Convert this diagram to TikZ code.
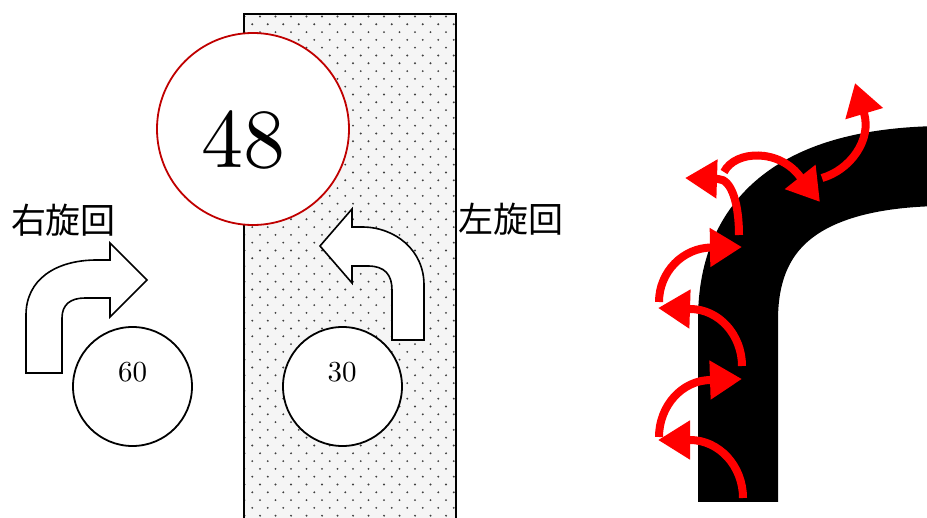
\documentclass[tikz,border=0pt]{standalone}
\usepackage{fontspec}
\newfontfamily\jpfont{Noto Sans CJK JP}
\newfontfamily\numfont{lmroman10-regular.otf}
\usetikzlibrary{arrows.meta}
\definecolor{circred}{RGB}{192,0,0}
\begin{document}
\begin{tikzpicture}[x=1pt,y=-1pt,
  turnarrow/.style={draw=black, line width=1.6pt, fill=white, line join=miter},
  ringnode/.style={circle, draw=black, line width=1.8pt, fill=white, minimum size=119pt, inner sep=0pt},
  bigring/.style={circle, draw=circred, line width=1.8pt, fill=white, minimum size=192pt, inner sep=0pt},
  redarrow/.style={draw=red, line width=8pt, -{Triangle[length=32pt,width=37pt]}},
  dotmark/.style={fill=black!75},
  numtext/.style={inner sep=0pt, font=\numfont\fontsize{29}{32}\selectfont},
  jplabel/.style={inner sep=0pt, font=\jpfont\fontsize{35}{40}\selectfont},
]
\useasboundingbox (0,0) rectangle (927,518);
\clip (0,0) rectangle (927,518);

% dotted band
\fill[black!4] (244,14) rectangle (456,530);
\begin{scope}
\clip (244,14) rectangle (456,530);
\foreach \j in {0,...,66}{
  \pgfmathsetmacro\yy{16.5+7.8*\j}
  \pgfmathsetmacro\xo{mod(\j,2)*7.75}
  \foreach \i in {-1,...,14}{
    \fill[dotmark] ({260-\xo+15.5*\i},\yy) circle[radius=1.05];
  }
}
\end{scope}
\draw[line width=1.6pt] (244,530) -- (244,14) -- (456,14) -- (456,530);

% big red circle
\node[bigring] (big) at (253,129) {};
\node[inner sep=0pt, font=\numfont\fontsize{84}{90}\selectfont] (t48) at (243.5,140) {48};

% labels
\node[jplabel] (rlabel) at (63.5,220) {右旋回};
\node[jplabel] (llabel) at (511,219) {左旋回};

% right-turn arrow
\draw[turnarrow] (26,373) -- (26,315) .. controls (26,280) and (55,260) .. (97,260)
  -- (110,260) -- (110,243) -- (147,280) -- (110,317) -- (110,298) -- (85,298)
  .. controls (70,298) and (62,305) .. (62,318) -- (62,373) -- cycle;

% left-turn arrow
\draw[turnarrow] (424,340) -- (424,285) .. controls (424,250) and (395,227) .. (362,227)
  -- (352,227) -- (352,209) -- (320,246) -- (352,283) -- (352,266) -- (368,266)
  .. controls (385,266) and (392,275) .. (392,290) -- (392,340) -- cycle;

% small circles
\node[ringnode] (c60) at (132.5,386.5) {};
\node[numtext] (t60) at (132.5,372.5) {60};
\node[ringnode] (c30) at (342.5,386.5) {};
\node[numtext] (t30) at (342,372.5) {30};

% road
\draw[line width=80pt, black] (738,502) -- (738,320) .. controls (738,215) and (810,168) .. (940,166);

% red arrows
\draw[redarrow] (743,498) .. controls (743,466) and (719,440) .. (690,440) -- (658,440);
\draw[redarrow] (659,437) .. controls (659,406) and (682,380) .. (711,380) -- (742,379);
\draw[redarrow] (742,366) .. controls (742,335) and (719,309) .. (690,309) -- (658,308);
\draw[redarrow] (659,302) .. controls (659,272) and (683,247.5) .. (712,247.5) -- (742,247);
\draw[redarrow] (739,235) .. controls (739,205) and (732,179) .. (718,179) -- (685,178);
\draw[redarrow] (724,172) .. controls (735,150) and (780,148) .. (801,178) -- (820,202);
\draw[redarrow] (822,178) .. controls (850,170) and (872,140) .. (864,113) -- (855,83);
\end{tikzpicture}
\end{document}
